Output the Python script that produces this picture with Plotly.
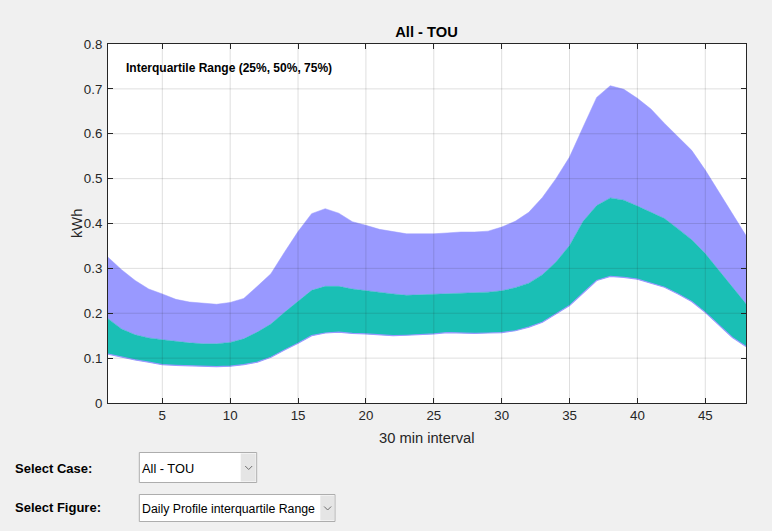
import plotly.graph_objects as go

# ---------------- data ----------------
intervals = list(range(1, 49))
p75 = [0.325, 0.297, 0.273, 0.254, 0.243, 0.231, 0.225, 0.222, 0.220, 0.224,
       0.233, 0.260, 0.288, 0.336, 0.382, 0.422, 0.433, 0.423, 0.404, 0.396,
       0.387, 0.382, 0.377, 0.377, 0.377, 0.379, 0.381, 0.381, 0.383, 0.392,
       0.405, 0.425, 0.458, 0.500, 0.548, 0.615, 0.681, 0.707, 0.699, 0.679,
       0.655, 0.623, 0.593, 0.563, 0.519, 0.470, 0.422, 0.373]
p50 = [0.188, 0.165, 0.152, 0.145, 0.141, 0.137, 0.134, 0.132, 0.132, 0.135,
       0.143, 0.158, 0.176, 0.202, 0.227, 0.251, 0.260, 0.260, 0.254, 0.250,
       0.246, 0.243, 0.240, 0.241, 0.243, 0.244, 0.244, 0.245, 0.247, 0.250,
       0.257, 0.267, 0.286, 0.314, 0.351, 0.405, 0.440, 0.457, 0.452, 0.439,
       0.425, 0.411, 0.388, 0.364, 0.333, 0.295, 0.258, 0.221]
p25 = [0.109, 0.102, 0.096, 0.091, 0.0855, 0.084, 0.0826, 0.082, 0.081, 0.082,
       0.0855, 0.091, 0.102, 0.118, 0.133, 0.150, 0.156, 0.158, 0.155, 0.154,
       0.152, 0.150, 0.151, 0.152, 0.154, 0.157, 0.156, 0.155, 0.156, 0.157,
       0.161, 0.169, 0.180, 0.199, 0.217, 0.245, 0.273, 0.282, 0.280, 0.276,
       0.267, 0.258, 0.243, 0.226, 0.202, 0.173, 0.146, 0.126]
x_ticks = [5, 10, 15, 20, 25, 30, 35, 40, 45]
y_ticks = [0, 0.1, 0.2, 0.3, 0.4, 0.5, 0.6, 0.7, 0.8]
title_text = "All - TOU"
note_text = "Interquartile Range (25%, 50%, 75%)"
case_options = "All - TOU"
figure_options = "Daily Profile interquartile Range"

# ---------------- style ----------------
W, H = 772, 531
L, R, T, B = 108, 746, 44, 403
PURPLE = "rgb(153,153,255)"
TEAL = "rgb(26,191,181)"
FONT = "Liberation Sans, Arial, sans-serif"
AX = "#262626"
GRID = "rgba(38,38,38,0.15)"


def px(xp):
    return (xp - L) / (R - L)


def py(yp):
    return (B - yp) / (B - T)


fig = go.Figure()
fig.add_trace(go.Scatter(x=intervals, y=p25, mode="lines",
                         line=dict(color=PURPLE, width=1.2), showlegend=False,
                         hoverinfo="skip"))
fig.add_trace(go.Scatter(x=intervals, y=p50, mode="lines", fill="tonexty",
                         fillcolor=TEAL, line=dict(color=TEAL, width=0.5),
                         showlegend=False, hoverinfo="skip"))
fig.add_trace(go.Scatter(x=intervals, y=p75, mode="lines", fill="tonexty",
                         fillcolor=PURPLE, line=dict(color=PURPLE, width=0.5),
                         showlegend=False, hoverinfo="skip"))

shapes = []
# grid lines drawn above the fills (as in the original)
for xv in x_ticks:
    shapes.append(dict(type="line", xref="x", yref="paper", x0=xv, x1=xv,
                       y0=0, y1=1, line=dict(color=GRID, width=1), layer="above"))
for yv in y_ticks[1:-1]:
    shapes.append(dict(type="line", xref="paper", yref="y", x0=0, x1=1,
                       y0=yv, y1=yv, line=dict(color=GRID, width=1), layer="above"))


def dropdown(x0, x1, y0, y1, arrow_x0):
    shapes.append(dict(type="rect", xref="paper", yref="paper",
                       x0=px(x0), x1=px(x1), y0=py(y1), y1=py(y0),
                       fillcolor="white", line=dict(color="#ADADAD", width=1),
                       layer="above"))
    shapes.append(dict(type="rect", xref="paper", yref="paper",
                       x0=px(arrow_x0), x1=px(x1 - 1), y0=py(y1 - 1), y1=py(y0 + 1),
                       fillcolor="#E5E5E5", line=dict(width=0), layer="above"))
    cx = (arrow_x0 + x1) / 2
    cy = (y0 + y1) / 2
    path = "M {} {} L {} {} L {} {}".format(px(cx - 3.5), py(cy - 1.5),
                                             px(cx), py(cy + 2),
                                             px(cx + 3.5), py(cy - 1.5))
    shapes.append(dict(type="path", xref="paper", yref="paper", path=path,
                       line=dict(color="#6E6E6E", width=1), layer="above"))


dropdown(139.3, 256.7, 452.5, 482.5, 240.7)
dropdown(139.3, 335.0, 494.5, 521.5, 320.3)

annotations = [
    dict(text="<b>" + note_text + "</b>", xref="paper", yref="paper",
         x=px(124), y=py(68.5), xanchor="left", yanchor="middle",
         showarrow=False, font=dict(family=FONT, size=12, color="black")),
    dict(text="30 min interval", xref="paper", yref="paper",
         x=px(426.7), y=py(438), xanchor="center", yanchor="middle",
         showarrow=False, font=dict(family=FONT, size=14.7, color=AX)),
    dict(text="kWh", xref="paper", yref="paper", textangle=-90,
         x=px(76.5), y=0.5, xanchor="center", yanchor="middle",
         showarrow=False, font=dict(family=FONT, size=14.7, color=AX)),
    dict(text="<b>Select Case:</b>", xref="paper", yref="paper",
         x=px(13), y=py(468.5), xanchor="left", yanchor="middle",
         showarrow=False, font=dict(family=FONT, size=13, color="black")),
    dict(text="<b>Select Figure:</b>", xref="paper", yref="paper",
         x=px(13), y=py(507), xanchor="left", yanchor="middle",
         showarrow=False, font=dict(family=FONT, size=13, color="black")),
    dict(text=case_options, xref="paper", yref="paper",
         x=px(139.5), y=py(468), xanchor="left", yanchor="middle",
         showarrow=False, font=dict(family=FONT, size=12.8, color="black")),
    dict(text=figure_options, xref="paper", yref="paper",
         x=px(139.5), y=py(508.5), xanchor="left", yanchor="middle",
         showarrow=False, font=dict(family=FONT, size=12.3, color="black")),
]

fig.update_layout(
    width=W, height=H,
    margin=dict(l=L, r=W - R, t=T, b=H - B, pad=0),
    paper_bgcolor="#F0F0F0", plot_bgcolor="white",
    title=dict(text="<b>" + title_text + "</b>", x=px(426.5) * (R - L) / W + L / W,
               xanchor="center", y=1 - 32 / H, yanchor="middle",
               font=dict(family=FONT, size=14.7, color="black")),
    showlegend=False,
    shapes=shapes,
    annotations=annotations,
    xaxis=dict(range=[1, 48], tickvals=x_ticks, ticks="inside", ticklen=5,
               tickcolor=AX, tickwidth=1, showline=True, linecolor=AX,
               linewidth=1, mirror="allticks", showgrid=False, zeroline=False,
               tickfont=dict(family=FONT, size=13.3, color=AX)),
    yaxis=dict(range=[0, 0.8], tickvals=y_ticks, ticks="inside", ticklen=5,
               tickcolor=AX, tickwidth=1, showline=True, linecolor=AX,
               linewidth=1, mirror="allticks", showgrid=False, zeroline=False,
               ticklabelstandoff=2,
               tickfont=dict(family=FONT, size=13.3, color=AX)),
)

fig.write_html("out.html")
